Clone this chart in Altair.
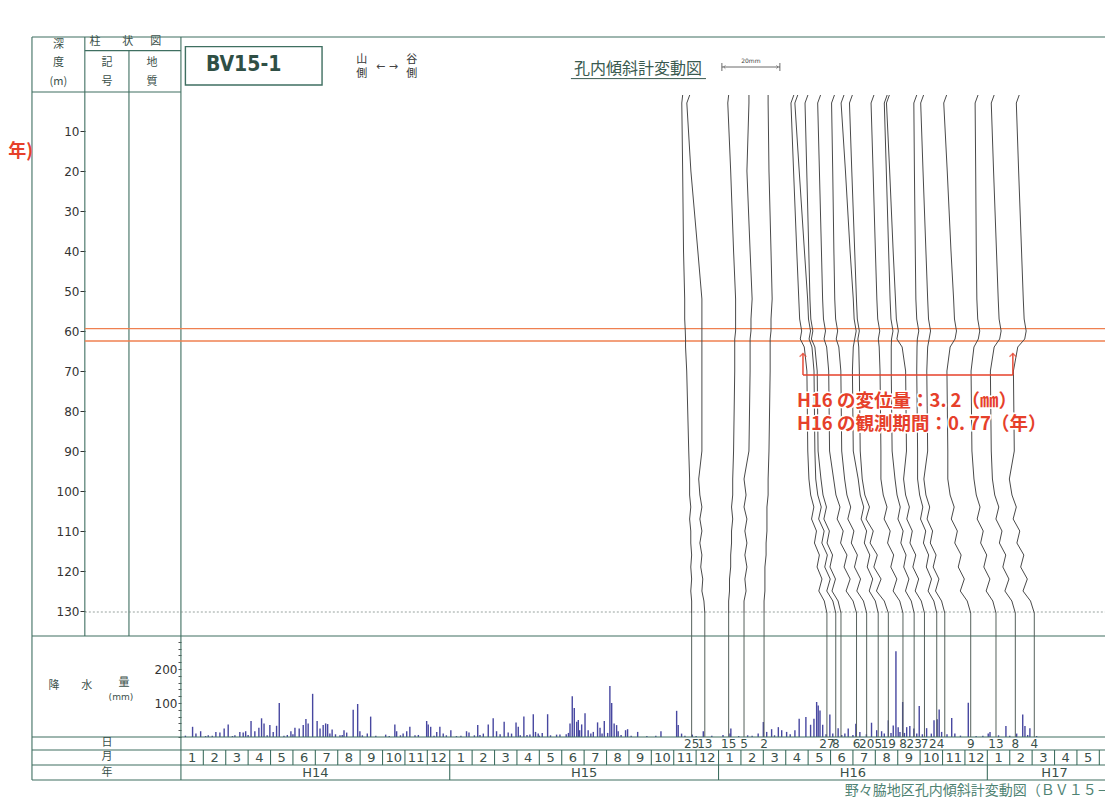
import calendar
import altair as alt
import pandas as pd

# ---------------- data ----------------
DEPTH_TICKS = [10, 20, 30, 40, 50, 60, 70, 80, 90, 100, 110, 120, 130]
RAIN_TICKS = [0, 20, 40, 60, 80, 100, 120, 140, 160, 180, 200, 220, 240, 260, 280]

# measurement dates (Heisei year, month, day) and the day labels printed under them
MEAS_HEISEI = [15, 15, 16, 16, 16, 16, 16, 16, 16, 16, 16, 16, 16, 16, 16, 16, 16, 16, 17, 17, 17]
MEAS_MONTH = [11, 12, 1, 2, 3, 5, 6, 6, 7, 7, 8, 8, 9, 9, 10, 10, 11, 12, 1, 2, 3]
MEAS_DAY = [25, 13, 15, 5, 2, 27, 8, 15, 6, 20, 5, 19, 8, 23, 7, 24, 4, 9, 13, 8, 4]
DAY_LABELS = ["25", "13", "15", "5", "2", "27", "8", "", "6", "20", "5", "19", "8",
              "23", "7", "24", "", "9", "13", "8", "4"]

# inclinometer profiles: displacement (mm) relative to the bottom, at these depths (m)
PROFILE_DEPTHS = [1, 3, 20, 40, 52, 57, 60, 62, 64, 70, 90, 97, 101, 104, 107, 110,
                  113, 116, 119, 122, 125, 127.5, 130.5]
PROFILE_MM = [
    [-3.1, -3.4, -3.1, -2.8, -2.4, -2.4, -2.2, -2.1, -2.1, -1.7, -1.0, -0.7, -0.7, -0.3, -0.7, -0.3, -0.3, 0.0, -0.3, 0.0, -0.3, 0.0, 0.0],
    [-5.2, -6.2, -4.8, -2.4, -1.0, -1.0, -1.0, -1.0, -1.0, -1.0, -1.0, -2.1, -1.7, -1.0, -1.7, -1.0, -1.7, -1.0, -1.4, -0.7, -1.0, -0.3, 0.0],
    [0.0, -0.3, 0.7, 1.7, 2.4, 2.4, 2.4, 2.1, 2.1, 2.1, 1.7, 1.4, 1.4, 1.0, 1.4, 1.0, 1.0, 0.7, 0.7, 0.3, 0.3, 0.0, 0.0],
    [1.7, 1.7, 1.0, 2.1, 2.8, 2.4, 2.4, 2.1, 2.1, 2.1, 1.7, 0.0, 0.7, 0.0, 1.0, 0.3, 1.0, 0.3, 1.0, 0.3, 0.7, 0.0, 0.0],
    [1.4, 1.4, 1.7, 2.4, 2.8, 2.4, 2.4, 2.1, 2.1, 2.1, 1.7, 1.4, 1.4, 1.0, 1.0, 1.0, 0.7, 0.7, 0.3, 0.3, 0.3, 0.0, 0.0],
    [-11.4, -12.4, -11.5, -10.4, -9.7, -9.4, -8.7, -9.2, -7.8, -6.9, -6.6, -6.2, -5.6, -4.5, -5.3, -3.6, -4.3, -2.6, -3.4, -1.7, -2.8, -0.9, 0.0],
    [-13.1, -14.1, -12.6, -10.8, -9.7, -9.4, -8.7, -9.2, -8.2, -7.5, -7.2, -6.9, -6.2, -5.0, -5.9, -4.0, -4.8, -2.9, -3.8, -1.9, -3.1, -1.0, 0.0],
    [-11.4, -12.4, -11.8, -11.1, -10.7, -10.4, -9.7, -10.2, -9.0, -8.2, -7.9, -6.9, -6.2, -5.0, -5.9, -4.0, -4.8, -2.9, -3.8, -1.9, -3.1, -1.0, 0.0],
    [-12.4, -13.4, -12.8, -12.1, -11.7, -11.4, -10.7, -11.2, -10.3, -9.6, -9.3, -7.9, -7.1, -5.7, -6.7, -4.6, -5.5, -3.3, -4.3, -2.2, -3.6, -1.2, 0.0],
    [-11.1, -12.1, -11.7, -11.3, -11.0, -10.7, -10.0, -10.5, -9.6, -8.9, -8.6, -7.6, -6.8, -5.5, -6.5, -4.4, -5.3, -3.2, -4.2, -2.1, -3.4, -1.1, 0.0],
    [-11.8, -12.8, -11.3, -9.7, -8.6, -8.3, -7.6, -8.1, -8.6, -8.9, -8.6, -6.9, -6.2, -5.0, -5.9, -4.0, -4.8, -2.9, -3.8, -1.9, -3.1, -1.0, 0.0],
    [-12.4, -13.4, -12.6, -11.6, -11.0, -10.7, -10.0, -10.5, -10.2, -10.0, -9.7, -9.0, -8.1, -6.5, -7.7, -5.2, -6.3, -3.8, -5.0, -2.5, -4.1, -1.4, 0.0],
    [-10.0, -11.0, -10.3, -9.5, -9.0, -8.7, -8.0, -8.5, -8.2, -7.9, -7.6, -7.6, -6.8, -5.5, -6.5, -4.4, -5.3, -3.2, -4.2, -2.1, -3.4, -1.1, 0.0],
    [-9.3, -10.3, -9.6, -8.8, -8.3, -8.0, -7.3, -7.8, -7.9, -7.9, -7.6, -6.6, -5.9, -4.8, -5.6, -3.8, -4.6, -2.8, -3.6, -1.8, -3.0, -1.0, 0.0],
    [-12.1, -13.1, -12.0, -10.8, -10.0, -9.7, -9.0, -9.5, -7.7, -6.5, -6.2, -7.2, -6.5, -5.2, -6.1, -4.2, -5.0, -3.0, -4.0, -2.0, -3.2, -1.1, 0.0],
    [-6.9, -7.9, -7.7, -7.4, -7.2, -6.9, -6.2, -6.7, -6.8, -6.9, -6.6, -6.6, -5.9, -4.8, -5.6, -3.8, -4.6, -2.8, -3.6, -1.8, -3.0, -1.0, 0.0],
    [-7.3, -8.3, -7.5, -6.5, -5.9, -5.6, -4.9, -5.4, -5.9, -6.2, -5.9, -7.2, -6.5, -5.2, -6.1, -4.2, -5.0, -3.0, -4.0, -2.0, -3.2, -1.1, 0.0],
    [-8.3, -9.3, -8.1, -6.8, -5.9, -5.6, -4.9, -5.4, -7.1, -8.2, -7.9, -7.9, -7.1, -5.7, -6.7, -4.6, -5.5, -3.3, -4.3, -2.2, -3.6, -1.2, 0.0],
    [-6.2, -7.2, -7.0, -6.8, -6.6, -6.3, -5.6, -6.1, -7.6, -8.6, -8.3, -7.6, -6.8, -5.5, -6.5, -4.4, -5.3, -3.2, -4.2, -2.1, -3.4, -1.1, 0.0],
    [-7.3, -8.3, -7.5, -6.5, -5.9, -5.6, -4.9, -5.4, -7.3, -8.6, -8.3, -7.9, -7.1, -5.7, -6.7, -4.6, -5.5, -3.3, -4.3, -2.2, -3.6, -1.2, 0.0],
    [-5.2, -6.2, -5.4, -4.4, -3.8, -3.5, -2.8, -3.3, -5.7, -7.2, -6.9, -8.6, -7.7, -6.2, -7.3, -5.0, -6.0, -3.6, -4.7, -2.4, -3.9, -1.3, 0.0],
]

# daily rainfall: position in months since H14 Jan 1, amount (mm)
RAIN_MONTH = [0.52, 0.67, 0.88, 1.22, 1.56, 1.74, 1.93, 2.11, 2.41, 2.63, 2.78, 2.89, 3.13, 3.30,
              3.48, 3.60, 3.71, 3.97, 4.12, 4.27, 4.39, 4.91, 5.09, 5.28, 5.46, 5.58, 5.68, 5.88,
              6.08, 6.21, 6.35, 6.46, 6.55, 6.75, 7.10, 7.28, 7.40, 7.69, 7.89, 7.99, 8.32, 8.47,
              9.14, 9.55, 9.63, 9.92, 10.08, 10.22, 10.45, 10.97, 11.04, 11.15, 11.42, 11.56, 11.71,
              12.05, 12.75, 12.86, 13.25, 13.50, 13.72, 13.94, 14.09, 14.43, 14.61, 14.76, 14.96,
              15.06, 15.31, 15.58, 15.73, 15.83, 15.95, 16.13, 16.37, 16.77, 16.92, 17.37, 17.47,
              17.56, 17.67, 17.74, 17.89, 18.04, 18.18, 18.41, 18.60, 18.71, 18.90, 19.15, 19.23,
              19.34, 19.45, 19.52, 19.85, 19.94, 20.39, 21.43, 22.13, 22.20, 22.35, 22.83, 23.32,
              24.51, 24.55, 25.77, 26.00, 26.15, 26.37, 26.67, 26.82, 27.04, 27.41, 27.60, 27.90,
              28.11, 28.26, 28.38, 28.45, 28.53, 28.65, 28.97, 29.34, 29.64, 29.79, 30.13, 30.31,
              30.83, 31.06, 31.28, 31.58, 31.80, 31.92, 32.02, 32.22, 32.40, 32.54, 32.72, 32.96,
              33.29, 33.62, 33.76, 33.85, 33.96, 34.41, 34.55, 35.15, 36.04, 36.12, 36.83, 37.31,
              37.58, 37.68, 37.90]
RAIN_MM = [30, 10, 17, 5, 15, 13, 25, 37, 5, 15, 13, 17, 47, 17,
           27, 55, 40, 35, 15, 33, 100, 17, 27, 25, 35, 53, 40, 127,
           47, 25, 35, 40, 38, 22, 5, 20, 13, 80, 97, 17, 10, 60,
           7, 37, 17, 10, 17, 30, 5, 47, 37, 30, 15, 30, 10,
           20, 17, 13, 35, 10, 37, 55, 17, 45, 13, 10, 43,
           30, 60, 7, 67, 15, 10, 12, 67, 7, 7, 40, 120,
           85, 45, 50, 37, 70, 20, 15, 43, 27, 47, 150, 100,
           40, 35, 17, 20, 23, 15, 17, 77, 35, 10, 7, 17,
           10, 25, 10, 44, 15, 23, 29, 20, 15, 20, 54, 59,
           36, 54, 103, 93, 78, 36, 66, 26, 10, 25, 39, 15,
           42, 20, 17, 49, 34, 252, 29, 103, 29, 32, 25, 91,
           26, 49, 52, 81, 15, 56, 10, 101, 10, 15, 32, 10,
           66, 32, 26]
# light rain stubble along the baseline
RAIN_LIGHT_MONTH = [0.2, 1.1, 1.4, 2.3, 3.0, 3.85, 4.6, 4.75, 5.0, 6.65, 6.9, 7.2, 8.1, 8.7, 9.3,
                    9.8, 10.6, 11.3, 11.85, 12.3, 12.5, 13.1, 13.35, 14.25, 15.15, 15.45, 16.0,
                    16.5, 17.2, 17.3, 17.8, 18.3, 18.8, 19.05, 19.65, 20.1, 20.8, 21.2, 22.5, 23.0,
                    23.7, 24.2, 24.9, 25.3, 25.5, 26.5, 27.2, 28.8, 29.1, 29.5, 30.0, 30.6, 31.4,
                    31.7, 32.1, 32.3, 32.85, 33.1, 33.5, 34.2, 34.8, 35.5, 35.8, 36.5, 37.0, 37.8, 38.2]
RAIN_LIGHT_MM = [4, 3, 4, 3, 6, 5, 4, 6, 8, 10, 8, 6, 5, 4, 3,
                 5, 6, 4, 5, 3, 4, 5, 6, 8, 5, 6, 4,
                 5, 8, 12, 20, 10, 10, 12, 6, 4, 3, 4, 4, 3,
                 4, 6, 3, 5, 4, 5, 8, 8, 10, 6, 6, 8, 10,
                 12, 15, 12, 10, 8, 10, 8, 4, 3, 4, 5, 4, 6, 3]

MONTH_NAMES = ["1", "2", "3", "4", "5", "6", "7", "8", "9", "10", "11", "12"]
YEAR_LABELS = ["H14", "H15", "H16", "H17"]

# ---------------- layout (scales) ----------------
W, H = 1097, 790
PX_PER_MONTH = 22.4
PX_PER_M = 4.0
PX_PER_RAIN_MM = 0.34
MM_TO_MONTH = 2.9 / PX_PER_MONTH
X_MIN = -7.72
X_MAX = X_MIN + W / PX_PER_MONTH
D_MIN = -20.75
D_MAX = D_MIN + H / PX_PER_M
RBASE = 161.5
R_MIN = -(D_MAX - RBASE) * PX_PER_M / PX_PER_RAIN_MM
R_MAX = R_MIN + H / PX_PER_RAIN_MM

LEFT, DCOL, GCOL, MAIN, RIGHT = -6.65, -4.29, -2.32, 0.0, X_MAX + 1
TOP, SUB, HDR, D130, DBOT = -13.5, -10.1, 0.25, 130.25, 136.25
MROW, YROW, BOT = 164.75, 168.5, 172.25

FRAME = "#3f6f61"
TXT = "#3a5049"
RED = "#e6402a"
JP = "Noto Sans CJK JP"

xs = alt.Scale(domain=[X_MIN, X_MAX], nice=False, zero=False)
ys = alt.Scale(domain=[D_MIN, D_MAX], reverse=True, nice=False, zero=False)
rs = alt.Scale(domain=[R_MIN, R_MAX], nice=False, zero=False)


def X(f="x"):
    return alt.X(f"{f}:Q", scale=xs, axis=None)


def Y(f="y", axis=None):
    return alt.Y(f"{f}:Q", scale=ys, axis=axis)


def month_pos(h, mo, d):
    dim = calendar.monthrange(1988 + h, mo)[1]
    return (h - 14) * 12 + (mo - 1) + (d - 1) / dim


meas_m = [month_pos(h, mo, d) for h, mo, d in zip(MEAS_HEISEI, MEAS_MONTH, MEAS_DAY)]

# ---------------- frame ----------------
segs = []
for y, a, b in [(TOP, LEFT, RIGHT), (SUB, DCOL, MAIN), (HDR, LEFT, MAIN), (DBOT, LEFT, RIGHT),
                (RBASE, LEFT, RIGHT), (MROW, LEFT, RIGHT), (YROW, LEFT, RIGHT), (BOT, LEFT, RIGHT)]:
    segs.append(dict(x=a, x2=b, y=y, y2=y))
for x, a, b in [(LEFT, TOP, BOT), (DCOL, TOP, DBOT), (GCOL, SUB, DBOT), (MAIN, TOP, BOT)]:
    segs.append(dict(x=x, x2=x, y=a, y2=b))
for k in range(1, 42):
    segs.append(dict(x=k, x2=k, y=MROW, y2=YROW))
for k in (12, 24, 36):
    segs.append(dict(x=k, x2=k, y=YROW, y2=BOT))
frame_df = pd.DataFrame(segs)

frame = alt.Chart(frame_df).mark_rule(color=FRAME, strokeWidth=1.1).encode(
    x=X(), x2="x2:Q", y=Y(), y2="y2:Q")

# depth axis (own group so its axis is not merged away)
depth_axis = alt.Axis(values=DEPTH_TICKS, orient="left", offset=-(85 - 8), domain=False,
                      grid=False, tickSize=5, tickColor="#333", labelColor="#333",
                      labelFontSize=12, labelFont="DejaVu Sans", labelPadding=1, title=None)
axis_chart = alt.Chart(pd.DataFrame(dict(x=[0] * len(DEPTH_TICKS), y=DEPTH_TICKS))).mark_point(
    opacity=0).encode(x=X(), y=Y(axis=depth_axis))

dotted = alt.Chart(pd.DataFrame([dict(x=DCOL, x2=RIGHT, y=D130)])).mark_rule(
    color="#7d8c86", strokeWidth=0.8, strokeDash=[2, 2]).encode(x=X(), x2="x2:Q", y=Y())

box = alt.Chart(pd.DataFrame([dict(x=0.2, x2=6.3, y=-11.1, y2=-1.5)])).mark_rect(
    fill="white", fillOpacity=0, stroke=FRAME, strokeWidth=1.4).encode(
    x=X(), x2="x2:Q", y=Y(), y2="y2:Q")

# ---------------- profiles and date lines ----------------
prow = []
for i, (m, offs) in enumerate(zip(meas_m, PROFILE_MM)):
    for d, o in zip(PROFILE_DEPTHS, offs):
        prow.append(dict(line=i, depth=d, x=m + o * MM_TO_MONTH))
prof_df = pd.DataFrame(prow)
profiles = alt.Chart(prof_df).mark_line(color="#4a4a4a", strokeWidth=1.0).encode(
    x=X(), y=Y("depth"), detail="line:N", order=alt.Order("depth:Q"))

date_df = pd.DataFrame(dict(x=meas_m, y=130.5, y2=RBASE, t=DAY_LABELS))
date_lines = alt.Chart(date_df).mark_rule(color="#56615c", strokeWidth=1.0).encode(
    x=X(), y=Y(), y2="y2:Q")
day_text = alt.Chart(date_df.assign(yt=163.3)).mark_text(
    fontSize=12, font="DejaVu Sans", color=TXT).encode(x=X(), y=Y("yt"), text="t:N")


def texts(rows, **kw):
    df = pd.DataFrame(rows, columns=["x", "y", "t"])
    return alt.Chart(df).mark_text(**kw).encode(x=X(), y=Y(), text="t:N")


# month / year labels
mrows = [(k + 0.5, 166.8, MONTH_NAMES[k % 12]) for k in range(42)]
month_text = texts(mrows, fontSize=13, font="DejaVu Sans", color=TXT)
yrows = list(zip([6, 18, 30, 39.0], [170.5] * 4, YEAR_LABELS))
year_text = texts(yrows, fontSize=13, font="DejaVu Sans", color=TXT)

# header texts
hdr_text = texts([
    (-5.47, -11.5, "深"), (-5.47, -6.9, "度"), (-5.47, -2.3, "(m)"),
    (-3.84, -12.3, "柱"), (-2.37, -12.3, "状"), (-1.12, -12.3, "図"),
    (-3.30, -6.9, "記"), (-3.30, -2.3, "号"), (-1.29, -6.9, "地"), (-1.29, -2.3, "質"),
    (-3.30, 163.1, "日"), (-3.30, 166.6, "月"), (-3.30, 170.4, "年"),
    (-5.67, 148.75, "降"), (-4.20, 148.75, "水"), (-2.54, 148.0, "量"),
], fontSize=11, font=JP, color=TXT)
mm_text = texts([(-2.68, 151.5, "(mm)")], fontSize=9, font="DejaVu Sans", color=TXT)
side_text = texts([(8.07, -7.75, "山"), (8.07, -4.25, "側"), (10.31, -7.75, "谷"),
                   (10.31, -4.25, "側")], fontSize=11, font=JP, color="#333")
arrow_text = texts([(9.2, -6.0, "←  →")], fontSize=11, font="DejaVu Sans", color="#444")
bv_text = texts([(2.8, -6.4, "BV15-1")], fontSize=21, fontWeight="bold",
                font="DejaVu Sans Condensed, Liberation Sans Narrow, Liberation Sans", color="#2f4f45")
title_text = texts([(20.4, -5.6, "孔内傾斜計変動図")], fontSize=16, font=JP, color="#3a5a50")
underline = alt.Chart(pd.DataFrame([dict(x=17.41, x2=23.44, y=-3.1)])).mark_rule(
    color="#3a5a50", strokeWidth=1).encode(x=X(), x2="x2:Q", y=Y())

sb_x0 = 24.15
sb_x1 = sb_x0 + 20 * MM_TO_MONTH
scalebar = alt.Chart(pd.DataFrame([dict(x=sb_x0, x2=sb_x1, y=-6.0)])).mark_rule(
    color="#444", strokeWidth=0.8).encode(x=X(), x2="x2:Q", y=Y())
scale_ends = alt.Chart(pd.DataFrame([dict(x=sb_x0, y=-7.0, y2=-5.0), dict(x=sb_x1, y=-7.0, y2=-5.0)])).mark_rule(
    color="#444", strokeWidth=0.8).encode(x=X(), y=Y(), y2="y2:Q")
sb_left = alt.Chart(pd.DataFrame([dict(x=sb_x0 + 0.08, y=-6.0)])).mark_point(
    shape="M1,-1L0,0L1,1", filled=False, size=12, color="#444", strokeWidth=0.8).encode(x=X(), y=Y())
sb_right = alt.Chart(pd.DataFrame([dict(x=sb_x1 - 0.08, y=-6.0)])).mark_point(
    shape="M-1,-1L0,0L-1,1", filled=False, size=12, color="#444", strokeWidth=0.8).encode(x=X(), y=Y())
sb_text = texts([((sb_x0 + sb_x1) / 2, -7.6, "20mm")], fontSize=6, font="DejaVu Sans", color="#444")

caption = texts([(29.64, 175.1, "野々脇地区孔内傾斜計変動図（ＢＶ１５－１）")], fontSize=14, font=JP,
                color="#4f8373", align="left")

# ---------------- red / orange annotation ----------------
orange = alt.Chart(pd.DataFrame([dict(x=DCOL, x2=RIGHT, y=59.4), dict(x=DCOL, x2=RIGHT, y=62.5)])).mark_rule(
    color="#ef8050", strokeWidth=1.3).encode(x=X(), x2="x2:Q", y=Y())
bx0, bx1 = 27.77, 37.14
bracket = alt.Chart(pd.DataFrame([
    dict(x=bx0, x2=bx1, y=71.0, y2=71.0),
    dict(x=bx0, x2=bx0, y=71.0, y2=65.6),
    dict(x=bx1, x2=bx1, y=71.0, y2=65.6),
])).mark_rule(color=RED, strokeWidth=1.4).encode(x=X(), x2="x2:Q", y=Y(), y2="y2:Q")
heads = alt.Chart(pd.DataFrame([dict(x=bx0, y=65.6), dict(x=bx1, y=65.6)])).mark_point(
    shape="M-1,1L0,0L1,1", filled=False, size=45, color=RED, strokeWidth=1.4).encode(x=X(), y=Y())
ann_rows = [(27.5, 77.4, "H16 の変位量：3. 2（㎜）"), (27.5, 83.2, "H16 の観測期間：0. 77（年）")]
ann_halo = texts(ann_rows, fontSize=18.5, fontWeight="bold", font=JP, color="white",
                 stroke="white", strokeWidth=3, align="left")
ann = texts(ann_rows, fontSize=18.5, fontWeight="bold", font=JP, color=RED, align="left")
edge_text = texts([(X_MIN + 0.01, 15.3, "年)")], fontSize=18, fontWeight="bold", font=JP,
                  color=RED, align="left")

# ---------------- rainfall (own y scale) ----------------
rain_axis = alt.Axis(values=RAIN_TICKS, orient="left", offset=-(181 - 8), domain=False, grid=False,
                     tickSize=3, tickColor="#555", labelColor="#333", labelFontSize=12,
                     labelFont="DejaVu Sans", labelPadding=1, title=None,
                     labelExpr="datum.value == 100 || datum.value == 200 ? datum.label : ''")
rain_df = pd.DataFrame(dict(x=RAIN_MONTH + RAIN_LIGHT_MONTH, mm=RAIN_MM + RAIN_LIGHT_MM, zero=0))
rain = alt.Chart(rain_df).mark_rule(color="#4747a0", strokeWidth=1.4).encode(
    x=X(), y=alt.Y("mm:Q", scale=rs, axis=rain_axis), y2="zero:Q")

main = alt.layer(
    frame, dotted, box, orange, date_lines, profiles, day_text, month_text, year_text,
    hdr_text, mm_text, side_text, arrow_text, bv_text, title_text, underline,
    scalebar, scale_ends, sb_left, sb_right, sb_text, caption,
    bracket, heads, ann_halo, ann, edge_text)

chart = alt.layer(alt.layer(rain), main, axis_chart).resolve_scale(y="independent").properties(
    width=W, height=H, padding=0, autosize=alt.AutoSizeParams(type="none"),
    background="white").configure_view(stroke=None)

chart.save("out.html", embed_options={"renderer": "svg", "actions": False})
